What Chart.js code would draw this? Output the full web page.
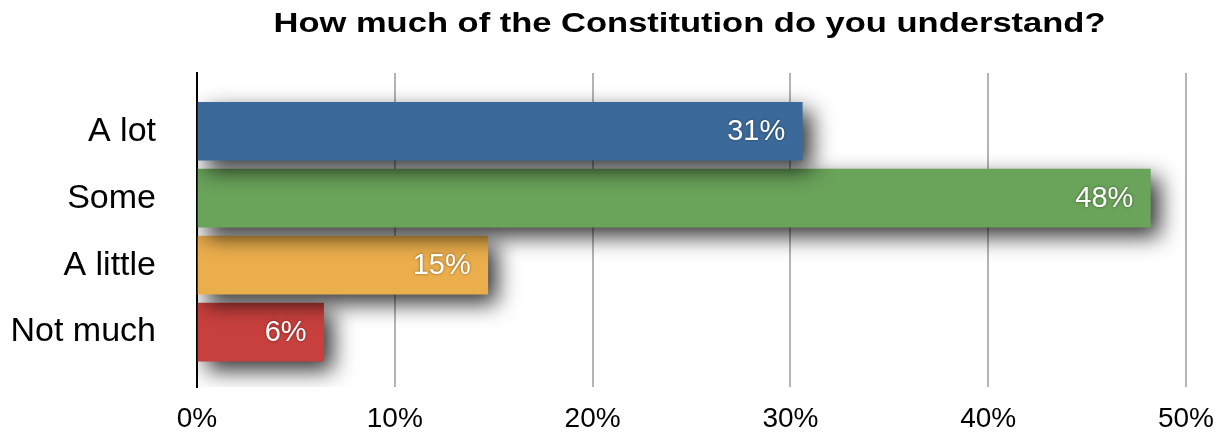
<!DOCTYPE html>
<html>
<head>
<meta charset="utf-8">
<script src="https://cdn.jsdelivr.net/npm/chart.js@4.4.1/dist/chart.umd.min.js"></script>
<style>
  html, body { margin: 0; padding: 0; background: #fff; }
  #wrap { width: 1223px; height: 434px; position: relative; }
</style>
</head>
<body>
<div id="wrap"><canvas id="surveyChart"></canvas></div>
<script>
const CHART_TITLE = "How much of the Constitution do you understand?";
const categories = ["A lot", "Some", "A little", "Not much"];
const values = [30.6, 48.2, 14.7, 6.4];
const barColors = ["#3b6a9a", "#6aa35a", "#ebae4c", "#c8403d"];
const xTicks = [0, 10, 20, 30, 40, 50];

const FONT = "'Liberation Sans', Arial, Helvetica, sans-serif";

// bottom bar first so the shadow of the bar above falls over it
const points = categories.map((c, i) => ({ x: values[i], y: i })).reverse();
const pointColors = barColors.slice().reverse();

/* ===========================
   PLUGINS
=========================== */

const titlePlugin = {
  id: "centerTitle",
  afterDraw(chart) {
    const { ctx, chartArea } = chart;
    ctx.save();
    ctx.font = `bold 28px ${FONT}`;
    ctx.fillStyle = "#000";
    ctx.textAlign = "center";
    ctx.textBaseline = "alphabetic";
    // the original title is set quite wide
    const w = ctx.measureText(CHART_TITLE).width;
    const sx = 832 / w;
    ctx.translate((chartArea.left + chartArea.right) / 2 - 2, 32);
    ctx.scale(sx, 1);
    ctx.fillText(CHART_TITLE, 0, 0);
    ctx.restore();
  }
};

const shadowPlugin = {
  id: "barShadow",
  beforeDatasetsDraw(chart) {
    const ctx = chart.ctx;
    ctx.save();
    ctx.shadowColor = "rgba(0,0,0,0.8)";
    ctx.shadowBlur = 22;
    ctx.shadowOffsetX = 9;
    ctx.shadowOffsetY = 9;
  },
  afterDatasetsDraw(chart) {
    const ctx = chart.ctx;
    ctx.restore();

    // value labels inside the bar end
    const meta = chart.getDatasetMeta(0);
    ctx.save();
    ctx.font = `29px ${FONT}`;
    ctx.fillStyle = "#fff";
    ctx.textAlign = "right";
    ctx.textBaseline = "middle";
    ctx.shadowColor = "rgba(0,0,0,0.45)";
    ctx.shadowBlur = 3;
    meta.data.forEach((bar, i) => {
      const v = points[i].x;
      ctx.fillText(`${Math.round(v)}%`, bar.x - 17, bar.y + 1);
    });
    ctx.restore();
  }
};

/* ===========================
   CHART
=========================== */

new Chart(document.getElementById("surveyChart"), {
  type: "bar",
  data: {
    datasets: [{
      data: points,
      backgroundColor: pointColors,
      borderWidth: 0,
      barThickness: 58
    }]
  },
  options: {
    indexAxis: "y",
    responsive: true,
    maintainAspectRatio: false,
    animation: false,
    layout: { padding: { top: 73, right: 37, left: 0, bottom: 0 } },
    plugins: {
      legend: { display: false },
      tooltip: { enabled: false }
    },
    scales: {
      x: {
        type: "linear",
        min: 0,
        max: 50,
        afterBuildTicks: (s) => { s.ticks = xTicks.map((v) => ({ value: v })); },
        afterFit: (s) => { s.height = 47; s.paddingLeft = 0; s.paddingRight = 0; },
        grid: { color: "#b4b4b4", lineWidth: 2, drawTicks: false },
        border: { display: false },
        ticks: {
          padding: 15,
          color: "#000",
          font: { family: FONT, size: 28 },
          callback: (v) => `${v}%`
        }
      },
      y: {
        type: "linear",
        offset: false,
        reverse: true,
        min: -0.87,
        max: 3.82,
        afterBuildTicks: (s) => { s.ticks = categories.map((c, i) => ({ value: i })); },
        afterFit: (s) => { s.width = 197; s.paddingTop = 0; s.paddingBottom = 0; },
        grid: { display: false },
        border: { display: true, color: "#000", width: 2 },
        ticks: {
          padding: 33,
          color: "#000",
          font: { family: FONT, size: 34 },
          callback: (v) => categories[v]
        }
      }
    }
  },
  plugins: [titlePlugin, shadowPlugin]
});
</script>
</body>
</html>
